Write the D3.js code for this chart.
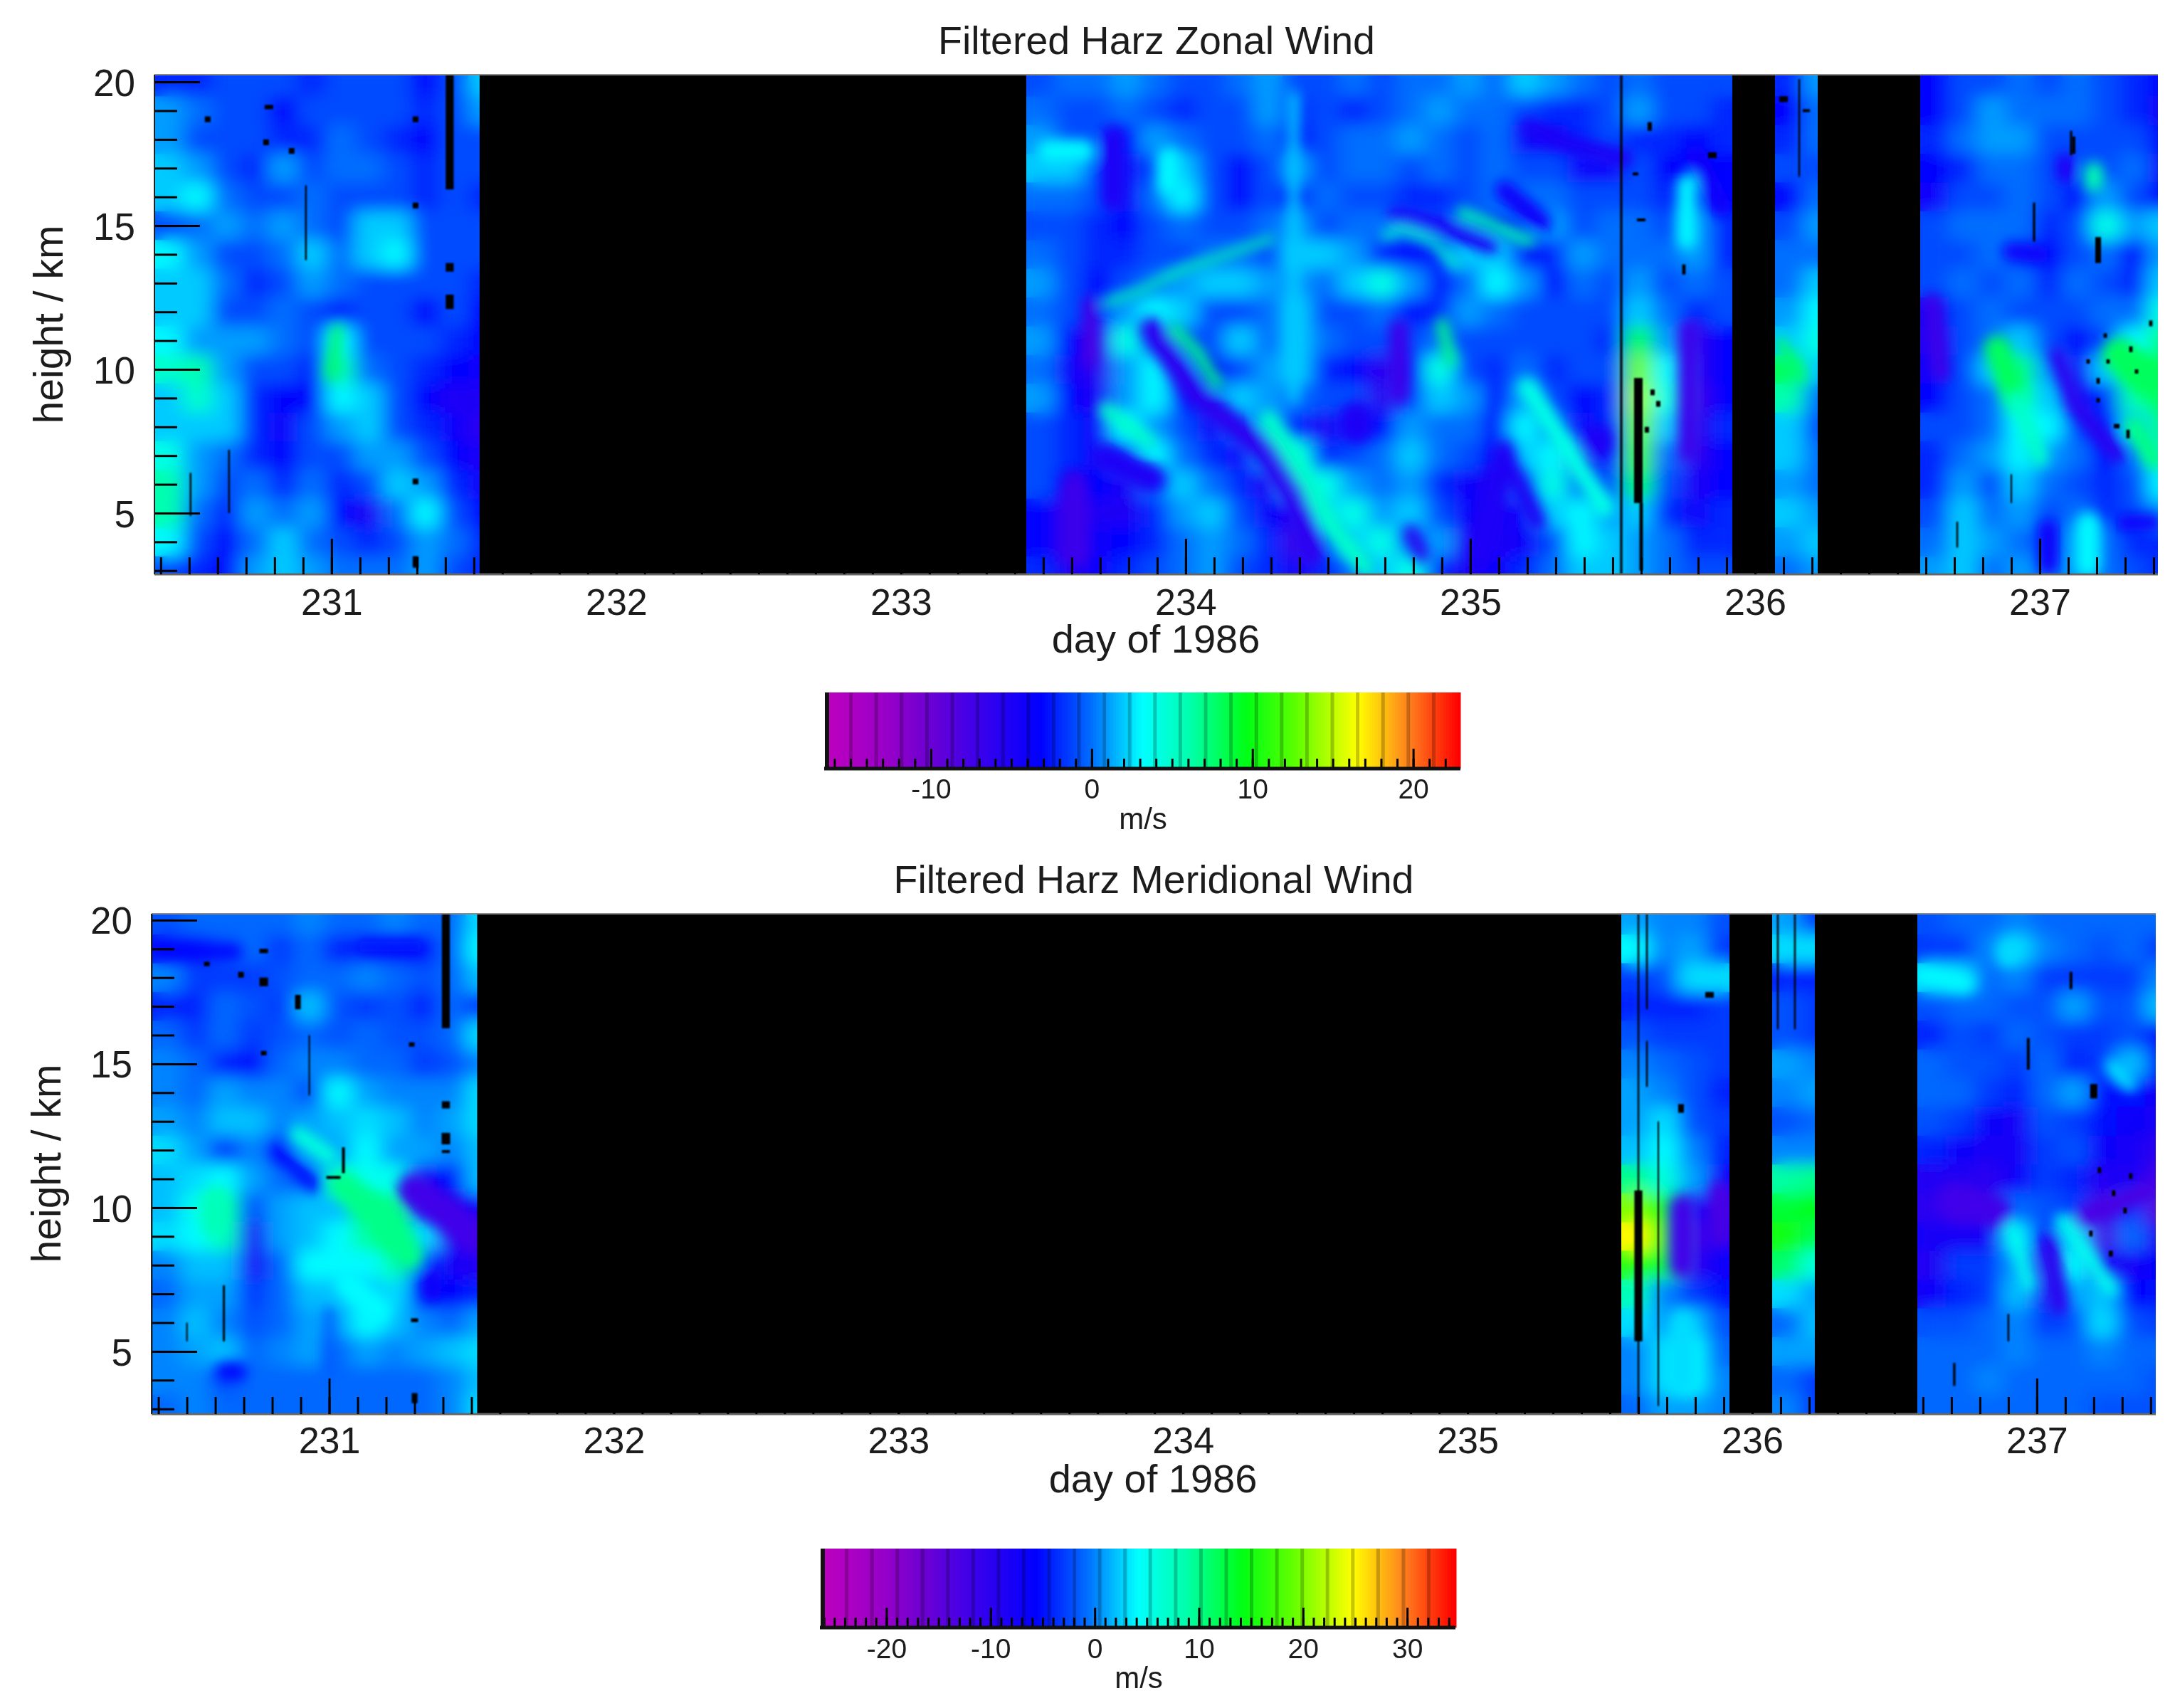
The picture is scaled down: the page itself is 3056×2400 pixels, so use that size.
<!DOCTYPE html>
<html><head><meta charset="utf-8">
<script src="https://d3js.org/d3.v7.min.js"></script>
<style>html,body{margin:0;background:#fff}svg{display:block;filter:blur(.7px)}text{font-family:"Liberation Sans",Arial,sans-serif;fill:#1c1c1c}</style>
</head><body><svg id="c" width="3056" height="2400" viewBox="0 0 3056 2400"></svg>
<script>
const heightsKm=[20,19,18,17,16,15,14,13,12,11,10,9,8,7,6,5,4,3];
const dayTicks=[231,232,233,234,235,236,237];
const heightTicks=[5,10,15,20];
const gapsZonal=[[231.52,233.44],[235.92,236.07],[236.22,236.58]];
const gapsMeridional=[[231.52,235.54],[235.92,236.07],[236.22,236.58]];
const colStartsA=[230.38,230.48,230.58,230.68,230.78,230.88,230.98,231.08,231.18,231.28,231.38,231.48];
const colStartsB=[233.44,233.54,233.64,233.74,233.84,233.94,234.04,234.14,234.24,234.34,234.44,234.54,234.64,234.74,234.84,234.94,235.04,235.14,235.24,235.34,235.44];
const colStartsC=[235.54,235.64,235.74,235.84];
const colStartsD=[236.07,236.17];
const colStartsE=[236.58,236.68,236.78,236.88,236.98,237.08,237.18,237.28,237.38];

const zonalA=[
[-2,-2,-1,-1,-1,-2,-1,-1,-1,-3,-1,2],[1,0,-1,-1,-3,-1,-1,-1,-1,-2,-1,1],[1,-1,-1,-1,-2,-2,0,-1,-2,-3,-1,-1],
[2,1,-1,-2,1,-1,0,0,-1,-2,-1,-1],[2,3,0,-1,-1,0,-1,-1,-1,-2,-1,-2],[-1,0,1,0,1,0,-1,2,2,-1,-1,-1],
[3,1,-1,-1,0,2,0,2,3,-1,-1,-1],[2,2,0,-2,-1,1,0,-1,-1,-1,-1,-2],[2,2,-1,-1,0,-1,-2,-1,-1,-3,-1,-3],
[3,1,1,1,0,-1,3,-1,-1,-1,-2,-3],[5,6,1,-1,-1,-2,6,0,-1,-2,-3,-4],[2,5,2,-2,-3,-3,3,2,-1,-3,-5,-5],
[2,2,2,-2,-4,-1,1,2,-1,-2,-4,-6],[4,1,0,-2,-3,-1,-1,1,1,-1,-3,-5],[6,1,-1,0,-2,0,-2,-1,2,1,-2,-4],
[6,0,-2,1,0,1,-3,-5,0,3,-1,-3],[3,-1,-3,0,2,0,-1,-2,-1,1,0,-2],[-1,-2,-3,1,2,1,0,0,0,1,-1,-2]];
const zonalB=[
[-1,0,0,1,0,-1,-1,0,1,-1,-1,0,-1,0,0,1,0,2,1,0,-1],[0,-1,-1,0,-1,-2,-1,-1,1,-2,-1,-2,-1,0,1,0,0,-1,-2,-2,-1],
[1,-1,-1,-3,1,0,-1,-1,0,-3,-1,0,0,1,0,-1,0,-4,-4,-2,-1],[2,2,-1,-4,-1,2,-1,-3,-1,1,-1,0,0,-1,0,-1,0,-1,-1,-4,-4],
[0,0,-1,-4,0,3,-1,-3,-1,-3,0,-1,-1,-2,-2,-1,0,0,0,-1,-1],[-1,-1,-2,-3,-1,0,-1,-1,0,1,-1,0,0,-1,-1,-1,-3,-2,1,-1,0],
[0,-1,-2,-2,-1,-1,0,0,-1,2,2,1,-2,-3,-2,2,2,-3,-2,1,0],[1,-1,-3,-1,0,1,2,2,1,1,0,2,4,1,-3,0,3,1,-3,0,-1],
[0,-1,-3,1,3,2,-1,-1,0,2,-1,-1,0,-3,-2,1,0,-1,-1,-1,-1],[1,-3,-6,4,0,-1,-1,2,0,2,0,-1,-1,-1,0,-1,-1,-1,-1,-1,-2],
[0,-4,-6,1,3,0,-3,-1,1,2,-2,-3,-6,-2,4,-1,-2,0,-2,-1,-1],[1,-3,-5,1,3,-3,-1,2,1,0,-1,-1,-6,-1,2,1,-3,1,-1,-3,-2],
[-1,-2,-4,3,1,-1,-4,0,1,-2,-5,-2,-3,1,0,0,-3,3,0,-4,-2],[-1,-2,-4,0,3,0,-2,-4,1,4,-2,-1,0,2,0,-1,-3,2,3,-5,-2],
[-1,-3,-3,-5,0,2,0,-2,-5,2,4,1,0,1,-2,-4,-5,0,4,-1,-1],[-3,-6,-5,-5,-2,1,2,-1,-4,-5,2,4,1,2,-1,-4,-5,-4,2,3,1],
[-3,-6,-4,-3,-2,0,1,0,-2,-7,-1,2,4,0,1,-5,-5,-4,-1,3,2],[-2,-5,-4,-2,-1,0,1,-1,-2,-5,-2,0,2,4,-2,-5,-4,-2,0,2,2]];
const zonalC=[[0,-1,-1,-1],[1,-1,-1,-2],[-2,-2,-3,-2],[-1,-3,-3,-3],[-1,-2,-2,-3],[0,-1,1,-2],[0,0,1,-2],[1,-1,0,-1],[2,0,-2,-1],
[8,1,-6,-3],[13,3,-6,-3],[14,4,-7,-3],[13,2,-6,-2],[12,0,-6,-3],[8,-1,-5,-3],[2,-2,-4,-2],[1,0,-2,-2],[1,0,-1,-1]];
const zonalD=[[-2,1],[-3,0],[-2,0],[-1,-1],[-3,0],[-1,1],[0,0],[0,2],[1,3],[2,4],[8,2],[6,0],[2,-1],[2,0],[1,0],[2,1],[1,2],[0,1]];
const zonalE=[
[-3,-1,-1,0,-1,0,-1,-2,-3],[-3,-1,1,0,0,0,-1,-2,-4],[-2,0,1,1,-1,-1,-1,-1,-3],[-3,-2,0,0,-1,-1,-1,0,-4],[-4,-1,-1,0,-1,-3,1,-1,-3],
[-1,0,0,0,-2,-1,4,1,2],[-1,-1,0,-1,-3,-1,0,-3,1],[-1,0,-1,0,-2,0,-1,-2,2],[-4,-1,0,-1,-1,-1,0,0,4],[-5,-1,0,2,-1,-3,-1,3,7],
[-4,-1,2,7,1,-4,2,8,8],[-3,-1,0,5,2,-4,-2,6,8],[-1,-1,0,3,3,-1,-3,2,7],[-2,0,1,3,1,0,-3,0,5],[-2,1,-1,2,0,-1,-2,-1,3],
[-1,2,0,1,-1,0,-2,-1,1],[0,2,1,0,-1,1,0,-2,-2],[1,2,0,1,0,1,0,-1,-2]];

const merA=[
[-2,-1,-1,-1,-1,0,-1,-1,0,-1,-1,3],[-5,-4,-2,-1,-3,-1,-4,-4,-5,-5,-1,4],[0,-3,-3,-3,-2,-1,-1,0,-1,-2,-1,2],[-4,-4,-1,-2,-3,2,-2,-3,-2,-4,-1,-3],
[-1,-3,-1,-3,-2,-1,-2,-1,-2,-2,-1,3],[0,-1,-4,-5,-1,0,0,-1,-1,-3,-2,0],[0,-1,1,0,0,-2,4,1,0,0,0,3],[1,0,2,2,0,1,2,3,2,0,1,3],
[3,1,-3,0,-5,1,1,4,1,1,0,2],[2,3,4,1,-1,-2,7,5,5,-7,-5,2],[2,5,9,-2,1,2,2,10,10,-8,-8,-7],[3,4,8,-8,1,2,4,9,11,3,-9,-12],
[0,2,2,-8,-1,4,4,4,8,-3,-8,-9],[-1,1,1,-3,-1,2,2,2,3,-6,-6,-4],[0,2,0,-2,-1,1,1,4,2,0,-1,1],[0,1,2,-1,0,1,-1,1,0,1,2,3],
[0,0,-2,-1,-1,-1,-1,-1,-1,-1,0,2],[-1,0,-1,-1,-1,-1,-1,-1,-1,-1,0,3]];
const merC=[[1,0,0,-2],[4,0,1,-3],[-3,-2,3,3],[-4,-4,-4,-3],[-2,-3,-3,-3],[0,-1,-2,-3],[1,0,-2,-4],[1,3,-2,-3],[2,4,0,-4],
[10,6,1,-7],[20,14,-8,-11],[25,17,-12,-9],[16,13,-10,-7],[8,0,-3,-5],[3,1,2,-2],[0,3,4,-1],[0,3,4,0],[-1,1,1,0]];
const merD=[[1,-3],[3,3],[-4,-4],[-2,-3],[-2,-3],[1,0],[0,1],[-2,-1],[0,0],[9,10],[13,14],[15,12],[11,6],[3,1],[-1,2],[1,1],[-1,-3],[0,-3]];
const merE=[
[-2,-1,-1,0,-1,-1,-1,-1,-1],[-3,-3,0,3,0,-1,-2,-1,-3],[3,3,-1,0,-3,-3,-3,-3,0],[-2,-1,-1,-2,-2,1,-2,-2,2],[-4,-2,-3,-1,-2,-3,-3,-2,-5],
[-1,-2,-2,-3,-1,-4,-3,2,-5],[-1,-1,-3,-4,-1,1,-5,-5,-7],[-2,-3,-7,-8,-2,-3,-5,-7,-8],[-4,-7,-8,-8,-3,-2,-7,-8,-10],
[-9,-9,-10,-7,-3,-4,-9,-8,-12],[-10,-12,-10,-1,-2,-3,-12,-3,-14],[-8,-8,-8,3,-5,2,-12,-1,-9],[-9,-3,-3,1,-9,4,-8,-8,-6],
[-7,-4,-3,2,-8,1,2,-6,-5],[-2,-2,-1,0,-3,-2,3,-2,-3],[-1,-1,-1,0,-1,-1,0,-1,-1],[-1,-1,0,-1,-1,-1,-1,-1,-2],[-1,-1,-1,-1,-1,-1,-2,-2,-2]];

// hand-read narrow bands: [value m/s, band width in days, day,km, day,km, ...]
const zonalBands=[
[6,.026,233.72,12.3,233.84,12.75,234.0,13.53,234.14,13.98,234.30,14.54],
[5,.03,234.70,14.65,234.76,14.88,234.87,14.43,234.95,13.64],
[-5,.06,234.74,15.33,234.93,14.88,235.07,14.32],
[6,.04,234.97,15.44,235.09,14.99,235.21,14.43],
[-5,.06,235.2,18.46,235.33,17.9,235.54,17.34],
[-4,.07,235.12,16.22,235.25,15.1],
[7,.04,233.96,11.4,234.04,10.6,234.11,9.5],
[5,.065,234.29,8.26,234.38,6.92,234.52,4.45,234.63,3.1],
[-6,.08,233.88,11.4,234.03,9.16,234.28,7.14,234.38,5.57,234.44,3.55],
[-8,.05,233.665,12.3,233.665,10.3],
[-7,.1,233.61,6,233.61,3.55],
[-5,.08,233.745,18.1,233.745,15.9],
[-5,.1,233.72,6.9,233.88,6.2],
[5,.05,233.72,8.6,233.87,7.5],
[3,.08,233.94,17.34,233.94,16.45],
[3,.08,233.52,17.6,233.64,17.6],
[-5,.12,234.6,8.3,234.6,8.0],
[-7,.07,234.75,11.4,234.75,9.16],
[-5,.08,235.115,7.14,235.03,3.55],
[-5,.06,235.115,7.14,235.235,4.67],
[4,.07,235.2,9.38,235.36,6.9,235.47,5.2],
[7,.04,234.9,11.6,234.93,10.3],
[-6,.05,234.79,4.34,234.83,3.55],
[-5,.1,235.45,7.6,235.45,7.4],
[2,.04,234.38,19.5,234.38,9],
[8,.035,231.02,11.4,231.0,9.8],
[-7,.07,235.77,11.4,235.77,7.14],
[-4,.07,235.79,17.45,235.88,15.66],
[3,.07,235.76,16.45,235.76,14.5],
[8,.035,236.09,10.95,236.16,9.7],
[-7,.07,236.62,12.3,236.65,9.9],
[8,.09,236.85,10.73,236.92,8.94],
[5,.06,236.92,8.94,237.0,6.92],
[-6,.06,237.06,10.5,237.13,8.7,237.27,7.03],
[8,.12,237.28,10.5,237.39,9.6],
[7,.07,237.33,8.04,237.4,6.9],
[-4,.07,237.03,4.45,237.03,3.2],
[3,.09,237.17,4.6,237.17,3.2],
[-4,.06,237.3,4.67,237.4,4.67],
[-4,.06,236.9,14.1,237.0,14],
[-5,.07,237.09,17.2,237.09,16.8],
[6,.065,237.19,16.9,237.19,16.5]];
const merBands=[
[-12,.12,231.3,10.6,231.41,9.85,231.5,9.1],
[-7,.07,231.36,7.6,231.36,7.1],
[10,.1,231.05,10.75,231.18,9.7,231.28,8.35],
[-6,.04,230.82,11.95,230.95,10.75],
[8,.09,230.6,10.3,230.6,9.4],
[6,.06,230.89,12.55,231.0,11.8],
[-6,.05,230.4,18.9,230.67,18.9],
[-5,.04,231.12,19.08,231.31,19.08],
[-6,.06,230.63,4.3,230.68,4.3],
[-2,.03,231.0,6.4,231.0,4.3],
[4,.1,231.07,7.3,231.17,6.4],
[5,.045,236.915,9.25,236.97,7.3],
[5,.05,237.09,9.55,237.26,7.15],
[-10,.065,237.04,8.8,237.08,6.55],
[-12,.11,236.71,10.3,236.85,9.85],
[-13,.07,237.17,9.7,237.39,10.6],
[4,.06,236.6,18.1,236.75,17.8],
[3,.07,236.9,18.95,236.9,18.75],
[4,.035,237.26,14.95,237.33,14.2],
[-12,.09,235.755,10,235.755,8],
[-13,.07,235.89,10.6,235.89,9],
[3,.09,235.755,6,235.755,4]];

// missing data seen as black: [day, top km, bottom km, day width]
const zonalMissing=[[231.415,20.3,16.26,.028],[231.415,13.7,13.4,.028],[231.415,12.6,12.1,.028],[235.53,20.3,2.8,.008],
[235.59,9.7,5.35,.03],[235.6,5.35,3,.012],[230.78,19.2,19.05,.03],[230.77,18,17.8,.02],[231.295,6.2,6,.02],[231.295,3.5,3.1,.02],
[231.295,15.8,15.6,.02],[231.295,18.8,18.6,.02],[230.565,18.8,18.6,.02],[230.86,17.7,17.5,.02],[230.64,7.2,5,.006],[230.505,6.4,4.9,.006],
[230.91,16.4,13.8,.006],[237.205,14.6,13.7,.02],[237.11,18.3,17.45,.008],[236.98,15.8,14.45,.008],[236.9,6.35,5.35,.005],
[236.71,4.7,3.8,.006],[237.23,11.25,11.1,.012],[237.17,10.35,10.2,.012],[237.205,9,8.85,.012],[237.27,8.1,7.95,.02],[237.31,7.9,7.6,.012],
[237.39,11.7,11.5,.012],[237.32,10.8,10.6,.012],[237.24,10.35,10.2,.012],[237.34,10,9.85,.012],[237.205,9.7,9.5,.012],
[235.63,18.6,18.3,.015],[235.85,17.55,17.35,.03],[235.75,13.65,13.3,.012],[235.6,15.25,15.15,.03],[235.58,16.85,16.75,.02],
[235.64,9.3,9.1,.015],[235.66,8.9,8.7,.015],[235.62,8,7.8,.015],[236.155,20.1,16.7,.006],[236.1,19.5,19.3,.03],[236.18,19.05,18.95,.025],[237.12,18.1,17.5,.01]];
const merMissing=[[231.41,20.3,16.24,.028],[231.41,13.7,13.45,.028],[231.41,12.6,12.2,.03],[231.41,12,11.9,.028],[230.77,18,17.7,.03],
[231.3,6.15,6.02,.025],[231.3,3.55,3.2,.02],[231.29,15.75,15.6,.02],[230.77,19,18.85,.03],[230.57,18.55,18.4,.02],[230.69,18.2,18,.02],[230.89,17.4,16.9,.02],
[230.77,15.45,15.3,.02],[231.015,11.1,11,.05],[230.63,7.3,5.35,.007],[230.5,6,5.35,.005],[230.93,16,13.9,.005],[231.05,12.1,11.2,.01],
[235.6,10.6,5.35,.028],[235.6,20.3,2.8,.006],[235.63,20.3,16.9,.006],[235.63,15.8,14.2,.006],[235.67,13,3.1,.005],[235.85,17.5,17.3,.03],[235.75,13.6,13.3,.02],
[236.15,20.3,16.2,.006],[236.09,20.3,16.2,.006],[237.12,18.2,17.6,.01],[237.2,14.3,13.8,.025],[236.97,15.9,14.8,.01],[236.9,6.3,5.35,.006],[236.71,4.6,3.8,.008],
[237.22,11.4,11.2,.012],[237.27,10.6,10.4,.012],[237.31,10,9.8,.012],[237.19,9.2,9,.012],[237.26,8.5,8.3,.014],[237.33,11.2,11,.012]];

const colourFractions=[0,.1,.16,.24,.34,.42,.5,.577,.665,.74,.84,.92,1];
const colourStops=["#be00be","#9600c8","#6e00d2","#3c00eb","#0000ff","#006eff","#00ffff","#00ffaa","#00ff14","#5aff00","#ffff00","#ff821e","#ff0000"];

const panels=[
 {title:"Filtered Harz Zonal Wind",left:217,right:3032,top:105,bottom:807,dayDom:[230.378,237.415],kmDom:[2.87,20.25],
  rows:[[colStartsA,zonalA],[colStartsB,zonalB],[colStartsC,zonalC],[colStartsD,zonalD],[colStartsE,zonalE]],bands:zonalBands,gaps:gapsZonal,missing:zonalMissing,
  titleX:1625,titleY:76,xTickY:864,xLabelX:1624,xLabelY:917,yLabelY:456,yLabelX:88,
  bar:{left:1160,right:2050,top:973,bottom:1080,dom:[-16.55,22.85],labels:[-10,0,10,20],tickY:1122,unitY:1165,unitX:1606}},
 {title:"Filtered Harz Meridional Wind",left:213,right:3029,top:1284,bottom:1987,dayDom:[230.376,237.418],kmDom:[2.82,20.22],
  rows:[[colStartsA,merA],[colStartsC,merC],[colStartsD,merD],[colStartsE,merE]],bands:merBands,gaps:gapsMeridional,missing:merMissing,
  titleX:1621,titleY:1255,xTickY:2042,xLabelX:1620,xLabelY:2097,yLabelY:1635,yLabelX:85,
  bar:{left:1154,right:2043,top:2176,bottom:2287,dom:[-26.25,34.5],labels:[-20,-10,0,10,20,30],tickY:2330,unitY:2372,unitX:1600}}
];

const svg=d3.select("#c");
const defs=svg.append("defs");
const addBlur=(id,sd)=>defs.append("filter").attr("id",id).attr("filterUnits","userSpaceOnUse").attr("x",0).attr("y",0).attr("width",3056).attr("height",2400)
  .append("feGaussianBlur").attr("stdDeviation",sd);
addBlur("soft","14 11");addBlur("mid","9");addBlur("fine","0.9");

panels.forEach((p,pi)=>{
  const x=d3.scaleLinear().domain(p.dayDom).range([p.left,p.right]);
  const y=d3.scaleLinear().domain(p.kmDom).range([p.bottom,p.top]);
  const span=p.bar.dom[1]-p.bar.dom[0];
  const colour=d3.scaleLinear().domain(colourFractions.map(f=>p.bar.dom[0]+f*span)).range(colourStops).clamp(true);
  const clipId="plot"+pi;
  defs.append("clipPath").attr("id",clipId).append("rect").attr("x",p.left).attr("y",p.top).attr("width",p.right-p.left).attr("height",p.bottom-p.top);
  const g=svg.append("g").attr("clip-path",`url(#${clipId})`);
  g.append("rect").attr("x",p.left).attr("y",p.top).attr("width",p.right-p.left).attr("height",p.bottom-p.top).attr("fill","#000");
  const cells=[];
  p.rows.forEach(([cols,m])=>m.forEach((row,ri)=>row.forEach((v,ci)=>cells.push({d:cols[ci],h:heightsKm[ri],v}))));
  const drawCells=sel=>sel.selectAll("rect").data(cells).join("rect")
    .attr("x",d=>x(d.d)).attr("width",d=>x(d.d+.1)-x(d.d)+.5)
    .attr("y",d=>y(d.h+.5)).attr("height",d=>y(d.h-.5)-y(d.h+.5)+.5)
    .attr("fill",d=>colour(d.v));
  g.append("g").call(drawCells);
  g.append("g").attr("filter","url(#soft)").call(drawCells);
  const bandLine=d3.line().x(d=>x(d[0])).y(d=>y(d[1]));
  g.append("g").attr("filter","url(#mid)").selectAll("path").data(p.bands).join("path")
    .attr("d",b=>bandLine(d3.range(2,b.length,2).map(i=>[b[i],b[i+1]])))
    .attr("fill","none").attr("stroke",b=>colour(b[0])).attr("stroke-width",b=>x(b[1])-x(0)).attr("stroke-linecap","round").attr("stroke-linejoin","round");
  g.append("g").attr("filter","url(#fine)").selectAll("rect").data(p.missing).join("rect")
    .attr("x",d=>x(d[0])-(x(d[3])-x(0))/2).attr("width",d=>x(d[3])-x(0))
    .attr("y",d=>y(d[1])).attr("height",d=>y(d[2])-y(d[1])).attr("fill","#000");
  g.append("g").selectAll("rect").data(p.gaps).join("rect")
    .attr("x",d=>x(d[0])).attr("width",d=>x(d[1])-x(d[0]))
    .attr("y",p.top).attr("height",p.bottom-p.top).attr("fill","#000");

  svg.append("line").attr("x1",p.left).attr("x2",p.right).attr("y1",p.top).attr("y2",p.top).attr("stroke","#8a8a8a").attr("stroke-width",2);
  svg.append("line").attr("x1",p.left).attr("x2",p.right).attr("y1",p.bottom).attr("y2",p.bottom).attr("stroke","#666").attr("stroke-width",3);

  const minorDays=d3.range(Math.ceil(p.dayDom[0]*10),Math.floor(p.dayDom[1]*10)+1).map(v=>v/10);
  const xMinor=d3.axisBottom(x).tickValues(minorDays).tickSize(-24).tickFormat("");
  const xMajor=d3.axisBottom(x).tickValues(dayTicks).tickSize(-50).tickPadding(0).tickFormat(d3.format("d"));
  const ax=svg.append("g").attr("transform",`translate(0,${p.bottom})`);
  ax.append("g").call(xMinor);
  const xm=ax.append("g").call(xMajor);
  xm.selectAll("text").attr("y",p.xTickY-p.bottom).attr("dy",0).style("font-size","52px").style("font-family",'"Liberation Sans"');
  const minorKm=d3.range(3,21);
  const yMinor=d3.axisLeft(y).tickValues(minorKm).tickSize(-32).tickFormat("");
  const yMajor=d3.axisLeft(y).tickValues(heightTicks).tickSize(-64).tickPadding(0).tickFormat(d3.format("d"));
  const ay=svg.append("g").attr("transform",`translate(${p.left},0)`);
  ay.append("g").call(yMinor);
  const ym=ay.append("g").call(yMajor);
  ym.selectAll("text").attr("x",-27).attr("dy","0.36em").style("font-size","53px").style("font-family",'"Liberation Sans"');
  [ax,ay].forEach(s=>{s.selectAll(".domain").remove();s.selectAll("line").attr("stroke","#000").attr("stroke-width",3);s.selectAll("text").attr("fill","#1c1c1c");});
  svg.append("line").attr("x1",p.left).attr("x2",p.left).attr("y1",p.top).attr("y2",p.bottom).attr("stroke","#222").attr("stroke-width",2);

  svg.append("text").attr("x",p.titleX).attr("y",p.titleY).attr("text-anchor","middle").style("font-size","55.5px").text(p.title);
  svg.append("text").attr("x",p.xLabelX).attr("y",p.xLabelY).attr("text-anchor","middle").style("font-size","56px").text("day of 1986");
  svg.append("text").attr("transform",`translate(${p.yLabelX},${p.yLabelY}) rotate(-90)`).attr("text-anchor","middle").style("font-size","57px").text("height / km");

  const b=p.bar;
  const bx=d3.scaleLinear().domain(b.dom).range([b.left,b.right]);
  const barG=svg.append("g");
  const steps=d3.range(b.left,b.right,4);
  barG.selectAll("rect.s").data(steps).join("rect").attr("class","s")
    .attr("x",d=>d).attr("width",4.5).attr("y",b.top).attr("height",b.bottom-b.top).attr("fill",d=>colour(bx.invert(d+2)));
  const nBands=25;
  barG.selectAll("line.sep").data(d3.range(1,nBands)).join("line").attr("class","sep")
    .attr("x1",i=>b.left+i*(b.right-b.left)/nBands).attr("x2",i=>b.left+i*(b.right-b.left)/nBands)
    .attr("y1",b.top).attr("y2",b.bottom).attr("stroke","#000").attr("stroke-opacity",.22).attr("stroke-width",5);
  const unitTicks=d3.range(Math.ceil(b.dom[0]),Math.floor(b.dom[1])+1);
  const cMinor=d3.axisBottom(bx).tickValues(unitTicks).tickSize(-14).tickFormat("");
  const cMajor=d3.axisBottom(bx).tickValues(b.labels).tickSize(-28).tickPadding(0).tickFormat(d3.format("d"));
  const ac=svg.append("g").attr("transform",`translate(0,${b.bottom})`);
  ac.append("g").call(cMinor);
  const cm=ac.append("g").call(cMajor);
  cm.selectAll("text").attr("y",b.tickY-b.bottom).attr("dy",0).style("font-size","39px").style("font-family",'"Liberation Sans"').attr("fill","#333")
    .text(d=>String(d));
  ac.selectAll(".domain").remove();
  ac.selectAll("line").attr("stroke","#000").attr("stroke-width",3);
  svg.append("line").attr("x1",b.left-2).attr("x2",b.right+2).attr("y1",b.bottom).attr("y2",b.bottom).attr("stroke","#111").attr("stroke-width",5);
  svg.append("line").attr("x1",b.left+2).attr("x2",b.left+2).attr("y1",b.top).attr("y2",b.bottom).attr("stroke","#111").attr("stroke-width",6);
  svg.append("text").attr("x",b.unitX).attr("y",b.unitY).attr("text-anchor","middle").style("font-size","42px").attr("fill","#333").text("m/s");
});
</script></body></html>
